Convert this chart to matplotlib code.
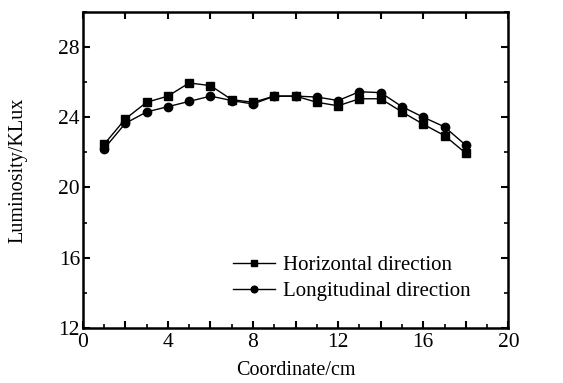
import matplotlib
matplotlib.use('Agg')
import matplotlib.pyplot as plt
from matplotlib.ticker import MultipleLocator, FuncFormatter

# data
coord = [1, 2, 3, 4, 5, 6, 7, 8, 9, 10, 11, 12, 13, 14, 15, 16, 17, 18]
horizontal = [22.45, 23.9, 24.85, 25.2, 25.95, 25.8, 25.0, 24.85, 25.2, 25.2,
              24.85, 24.65, 25.05, 25.05, 24.3, 23.6, 22.95, 21.95]
longitudinal = [22.2, 23.65, 24.3, 24.6, 24.9, 25.2, 24.95, 24.75, 25.2, 25.2,
                25.15, 24.95, 25.45, 25.4, 24.6, 24.0, 23.45, 22.4]

plt.rcParams['font.family'] = ['Liberation Serif', 'DejaVu Serif']

fig = plt.figure(figsize=(5.63, 3.83), dpi=100)
ax = fig.add_axes([0.147, 0.144, 0.756, 0.825])

ax.plot(coord, horizontal, color='black', lw=1.0, marker='s', markersize=6,
        label='Horizontal direction')
ax.plot(coord, longitudinal, color='black', lw=1.0, marker='o', markersize=6,
        label='Longitudinal direction')

ax.set_xlim(0, 20)
ax.set_ylim(12, 30)
ax.xaxis.set_major_locator(MultipleLocator(2))
ax.xaxis.set_minor_locator(MultipleLocator(1))
ax.xaxis.set_major_formatter(FuncFormatter(lambda v, p: '%d' % v if int(round(v)) % 4 == 0 else ''))
ax.yaxis.set_major_locator(MultipleLocator(4))
ax.yaxis.set_minor_locator(MultipleLocator(2))

ax.tick_params(which='major', direction='in', length=5, width=1.5, labelsize=15.5,
               top=True, right=True)
ax.tick_params(axis='x', which='major', pad=4)
ax.tick_params(axis='y', which='major', pad=2)
ax.tick_params(which='minor', direction='in', length=3, width=1.2, top=False, right=True)
for s in ax.spines.values():
    s.set_linewidth(1.8)

ax.set_xlabel('Coordinate/cm', fontsize=14.5, labelpad=6)
ax.set_ylabel('Luminosity/KLux', fontsize=14.5, labelpad=22)

ax.legend(loc='lower left', bbox_to_anchor=(0.31, 0.025), frameon=False, fontsize=15,
          handlelength=2.0, handletextpad=0.4, labelspacing=0.3, markerscale=0.8)

fig.savefig('out.png', dpi=100)
